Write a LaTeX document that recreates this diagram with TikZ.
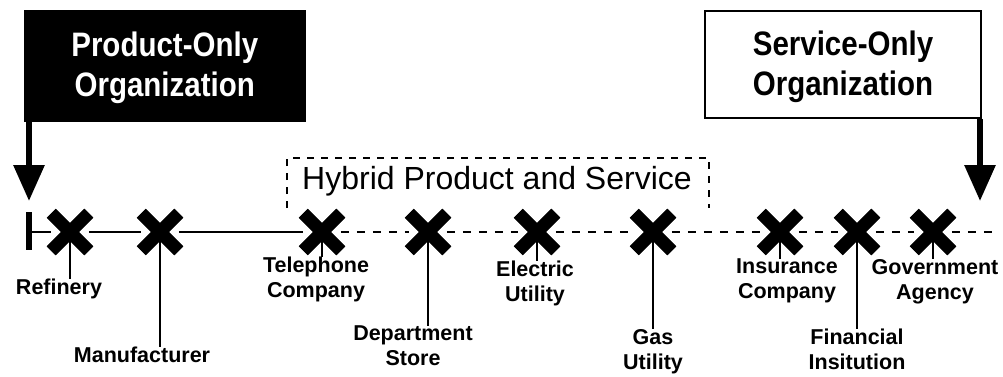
\documentclass[tikz,border=0pt]{standalone}
\usepackage{fontspec}
\setmainfont{Liberation Sans}
\usetikzlibrary{shapes.misc,arrows.meta}
\begin{document}
\begin{tikzpicture}[x=1pt,y=-1pt,
  xmark/.style={cross out,draw,line width=12.5pt,minimum size=25pt,inner sep=0pt},
  lbl/.style={anchor=north,inner sep=0pt,align=center,font=\fontsize{21.5}{25}\selectfont\bfseries},
  stem/.style={line width=1.8pt},
  boxtxt/.style={align=center,font=\fontsize{29.5}{40}\selectfont\bfseries},
  bigarrow/.style={line width=6pt,-{Triangle[width=30pt,length=36pt]}},
  mainline/.style={line width=2pt},
  dashline/.style={line width=2pt,dash pattern=on 8pt off 8pt},
  hybframe/.style={line width=1.8pt,dash pattern=on 7pt off 7pt},
]
\useasboundingbox (0,0) rectangle (1003,377);

% organisation boxes
\node[draw,fill=black,line width=1.5pt,minimum width=280pt,minimum height=111pt,anchor=north west] (prod) at (24,10) {};
\node[boxtxt,text=white] (prodt) at ([yshift=-2pt]prod.center) {\scalebox{1}[1.15]{Product-Only}\\\scalebox{1}[1.15]{Organization}};
\node[draw,fill=white,line width=2pt,minimum width=276pt,minimum height=107pt,anchor=north west] (serv) at (704,10) {};
\node[boxtxt] (servt) at ([yshift=-2pt]serv.center) {\scalebox{1}[1.15]{Service-Only}\\\scalebox{1}[1.15]{Organization}};

% arrows from boxes
\coordinate (ltip) at (29,201);
\coordinate (rtip) at (980,201);
\draw[bigarrow] (prod.south west -| ltip) -- (ltip);
\draw[bigarrow] (serv.south east -| rtip) -- (rtip);

% hybrid frame
\node[inner sep=0pt,font=\fontsize{32}{36}\selectfont] (hyb) at (497,181) {Hybrid Product and Service};
\draw[hybframe] (287,208) -- (287,158) -- (709,158) -- (709,208);

% start tick
\coordinate (start) at (29,232);
\coordinate (tb) at (29,212);
\coordinate (te) at (29,250);
\draw[line width=6pt] (tb) -- (te);

% marks
\node[xmark] (m1) at (70,232) {};
\node[xmark] (m2) at (160,232) {};
\node[xmark] (m3) at (322,232) {};
\node[xmark] (m4) at (428,232) {};
\node[xmark] (m5) at (537,232) {};
\node[xmark] (m6) at (653,232) {};
\node[xmark] (m7) at (780,232) {};
\node[xmark] (m8) at (857,232) {};
\node[xmark] (m9) at (933,232) {};
\coordinate (lend) at (998,232);

\draw[mainline] (start) -- (m1) -- (m2) -- (m3);
\draw[dashline] (m3) -- (m4) -- (m5) -- (m6) -- (m7) -- (m8) -- (m9) -- (lend);

% labels
\node[lbl] (l1) at (59,279) {Refinery};
\node[lbl] (l2) at (142,347) {Manufacturer};
\node[lbl] (l3) at (316,257) {Telephone\\Company};
\node[lbl] (l4) at (413,326) {Department\\Store};
\node[lbl] (l5) at (535,261) {Electric\\Utility};
\node[lbl] (l6) at (653,329) {Gas\\Utility};
\node[lbl] (l7) at (787,259) {Insurance\\Company};
\node[lbl] (l8) at (857,329) {Financial\\Insitution};
\node[lbl] (l9) at (935,259) {Government\\Agency};

\foreach \i in {1,...,9} {
  \draw[stem] (m\i.center) -- (m\i.center |- l\i.north);
}
\foreach \i in {1,...,9} {
  \node[xmark] at (m\i) {};
}
\end{tikzpicture}
\end{document}
